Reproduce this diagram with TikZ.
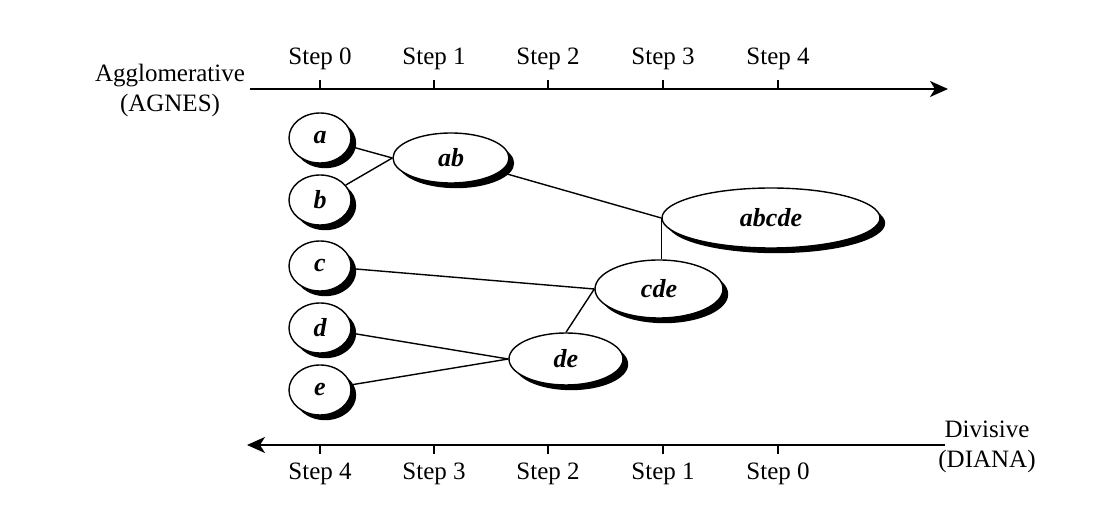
\documentclass[tikz,border=0pt]{standalone}
\usepackage{fontspec}
\setmainfont{Liberation Serif}
\usetikzlibrary{positioning, shapes.geometric, shadows, arrows.meta}

\begin{document}
\begin{tikzpicture}[x=0.5pt, y=-0.5pt, line width=0.7pt,
  font=\fontsize{12.5}{15}\selectfont,
  clu/.style={ellipse, draw, fill=white, inner sep=0pt,
    drop shadow={shadow xshift=2.6pt, shadow yshift=-2.6pt, fill=black, opacity=1},
    font=\fontsize{13}{15}\selectfont\bfseries\itshape},
  leaf/.style={clu, minimum width=31pt, minimum height=25pt},
  axis/.style={line width=0.9pt, -{Stealth[length=9pt, width=8pt, inset=2.5pt]}},
  steplbl/.style={inner sep=1pt}]
\useasboundingbox (0,0) rectangle (1110,528);

% axes
\coordinate (topL) at (250,89);
\coordinate (topR) at (948,89);
\coordinate (botR) at (945,445);
\coordinate (botL) at (247,445);
\draw[axis] (topL) -- (topR);
\draw[axis] (botR) -- (botL);

\node[align=center] (agnes) at (170,90) {Agglomerative\\(AGNES)};
\node[align=center] (diana) at (987,447) {Divisive\\(DIANA)};

% ticks and step labels on top
\coordinate (t0) at (320,89);
\coordinate (t1) at (434,89);
\coordinate (t2) at (548,89);
\coordinate (t3) at (663,89);
\coordinate (t4) at (778,89);
\draw (t0) -- ++(0,-9); \draw (t1) -- ++(0,-9); \draw (t2) -- ++(0,-9);
\draw (t3) -- ++(0,-9); \draw (t4) -- ++(0,-9);
\node[steplbl] (s0) at (320,59) {Step 0};
\node[steplbl] (s1) at (434,59) {Step 1};
\node[steplbl] (s2) at (548,59) {Step 2};
\node[steplbl] (s3) at (663,59) {Step 3};
\node[steplbl] (s4) at (778,59) {Step 4};

% ticks and step labels below
\coordinate (b4) at (320,445);
\coordinate (b3) at (434,445);
\coordinate (b2) at (548,445);
\coordinate (b1) at (663,445);
\coordinate (b0) at (778,445);
\draw (b4) -- ++(0,9); \draw (b3) -- ++(0,9); \draw (b2) -- ++(0,9);
\draw (b1) -- ++(0,9); \draw (b0) -- ++(0,9);
\node[steplbl] (d4) at (320,474) {Step 4};
\node[steplbl] (d3) at (434,474) {Step 3};
\node[steplbl] (d2) at (548,474) {Step 2};
\node[steplbl] (d1) at (663,474) {Step 1};
\node[steplbl] (d0) at (778,474) {Step 0};

% objects and clusters
\node[leaf] (a) at (320,138) {a};
\node[leaf] (b) at (320,200) {b};
\node[leaf] (c) at (320,266) {c};
\node[leaf] (d) at (320,328) {d};
\node[leaf] (e) at (320,390) {e};
\node[clu, minimum width=58pt, minimum height=25pt] (ab) at (451,158) {ab};
\node[clu, minimum width=57pt, minimum height=26pt] (de) at (566,359) {de};
\node[clu, minimum width=64pt, minimum height=29pt] (cde) at (659,289) {cde};
\node[clu, minimum width=109pt, minimum height=30pt] (abcde) at (771,218) {abcde};

\draw (a) -- (ab.west);
\draw (b) -- (ab.west);
\draw (ab) -- (abcde.west);
\draw (abcde.west) -- (abcde.west |- cde.north);
\draw (c) -- (cde.west);
\draw (de.north) -- (cde.west);
\draw (d) -- (de.west);
\draw (e) -- (de.west);
\end{tikzpicture}
\end{document}
